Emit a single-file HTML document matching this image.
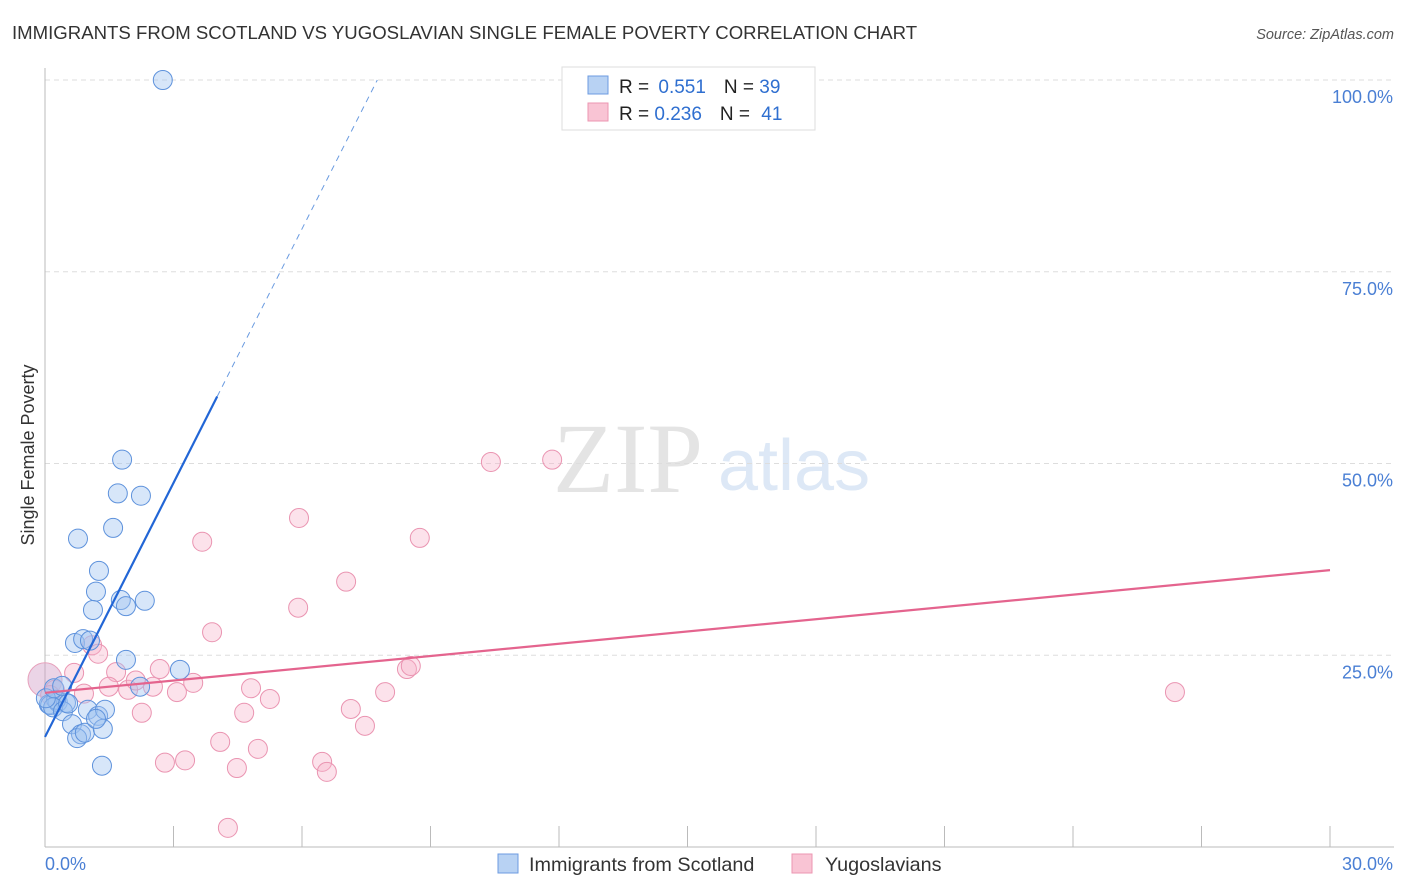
<!DOCTYPE html>
<html><head><meta charset="utf-8">
<style>
body{margin:0;background:#fff;font-family:"Liberation Sans",sans-serif;}
svg{display:block}
</style></head>
<body>
<svg id="chart" width="1406" height="892" viewBox="0 0 1406 892">
<text x="12" y="39" font-size="18.6" fill="#333">IMMIGRANTS FROM SCOTLAND VS YUGOSLAVIAN SINGLE FEMALE POVERTY CORRELATION CHART</text>
<text x="1394" y="39" font-size="14.5" fill="#555" font-style="italic" text-anchor="end">Source: ZipAtlas.com</text>
<g>
<text x="553" y="492" font-family="Liberation Serif,serif" font-size="100" fill="#e4e4e4">ZIP</text>
<text x="718" y="490" font-size="72" fill="#dde8f6">atlas</text>
</g>
<g id="grid"></g>
<g id="axes"></g>
<g id="marks"></g>
<text transform="translate(34,455) rotate(-90)" font-size="18" fill="#333" text-anchor="middle">Single Female Poverty</text>
<g>
<rect x="562" y="67" width="253" height="63" fill="#fff" stroke="#ddd"/>
<rect x="588" y="76" width="20" height="18" fill="#b8d2f3" stroke="#6c9be0"/>
<rect x="588" y="103" width="20" height="18" fill="#f9c4d4" stroke="#ec96b2"/>
<text x="619" y="93" font-size="19" fill="#222">R = <tspan fill="#2f6fd0" dx="4">0.551</tspan><tspan dx="18" fill="#222">N = </tspan><tspan fill="#2f6fd0">39</tspan></text>
<text x="619" y="120" font-size="19" fill="#222">R = <tspan fill="#2f6fd0">0.236</tspan><tspan dx="18" fill="#222">N = </tspan><tspan fill="#2f6fd0" dx="6">41</tspan></text>
</g>
<g>
<rect x="498" y="854" width="20" height="19" fill="#b8d2f3" stroke="#6c9be0"/>
<text x="529" y="871" font-size="19.8" fill="#333">Immigrants from Scotland</text>
<rect x="792" y="854" width="20" height="19" fill="#f9c4d4" stroke="#ec96b2"/>
<text x="825" y="871" font-size="19.8" fill="#333">Yugoslavians</text>
</g>
</svg>
<script>
const xTicks=[0,3,6,9,12,15,18,21,24,27,30];
const yTicks=[25,50,75,100];
const yTickLabels=["25.0%","50.0%","75.0%","100.0%"];
const xEndLabels=["0.0%","30.0%"];
const blueX=[2.75,1.80,1.70,2.24,1.59,0.77,1.26,1.19,1.77,2.33,1.89,1.12,0.70,0.89,1.05,1.89,3.15,2.22,0.09,0.12,0.30,0.49,0.26,0.19,0.42,0.54,1.00,1.24,1.40,0.63,0.84,0.75,0.93,1.35,1.33,0.02,0.21,0.40,1.19];
const blueY=[100.0,50.5,46.1,45.8,41.6,40.2,36.0,33.3,32.2,32.1,31.4,30.9,26.6,27.1,26.9,24.4,23.1,20.9,18.6,18.5,18.9,18.8,19.2,18.2,17.7,18.7,17.9,17.1,17.9,16.0,14.7,14.2,14.9,15.4,10.6,19.4,20.7,21.0,16.7];
const pinkX=[0.23,0.12,0.68,0.91,1.10,1.24,1.66,1.49,1.94,2.12,2.52,2.68,3.08,3.46,2.26,3.67,3.90,4.09,2.80,3.27,4.48,4.27,4.81,4.65,4.97,5.25,5.93,5.91,7.03,7.14,7.47,6.47,6.58,7.94,8.45,8.54,8.75,10.41,11.84,26.38];
const pinkY=[20.5,19.8,22.7,20.0,26.3,25.2,22.8,20.9,20.5,21.7,20.9,23.2,20.2,21.4,17.5,39.8,28.0,13.7,11.0,11.3,10.3,2.5,20.7,17.5,12.8,19.3,42.9,31.2,34.6,18.0,15.8,11.1,9.8,20.2,23.2,23.6,40.3,50.2,50.5,20.2];
const pinkBig=[0.0,21.8];
const blueTrend=[0,14.35,11.04];
const pinkTrend=[0,20.1,30,36.1];
const NS="http://www.w3.org/2000/svg";
const X0=45,X1=1330,Y0=847,Y100=80;
function sx(v){return X0+(v-0)/30*(X1-X0);}
function sy(v){return Y0-(v/100)*(Y0-Y100);}
function mk(tag,attrs,parent){const e=document.createElementNS(NS,tag);for(const k in attrs)e.setAttribute(k,attrs[k]);parent.appendChild(e);return e;}
const grid=document.getElementById('grid'),axes=document.getElementById('axes'),marks=document.getElementById('marks');
yTicks.forEach((t,i)=>{
 const l=mk('line',{x1:45,x2:1394,y1:sy(t),y2:sy(t),stroke:'#ddd','stroke-dasharray':'5,4'},grid);
 
 
 const tx=mk('text',{x:1393,y:sy(t)+23,'font-size':18,fill:'#4a7fd4','text-anchor':'end'},axes);
 tx.textContent=yTickLabels[i];
 
 
});
const ya=mk('line',{x1:45,x2:45,y1:68,y2:847,stroke:'#bbb'},axes);


const xa=mk('line',{x1:45,x2:1394,y1:847,y2:847,stroke:'#bbb'},axes);


xTicks.forEach(t=>{
 const l=mk('line',{x1:sx(t),x2:sx(t),y1:826,y2:847,stroke:'#bbb'},axes);
 
 
});
const xl0=mk('text',{x:45,y:870,'font-size':18,fill:'#4a7fd4'},axes);xl0.textContent=xEndLabels[0];


const xl1=mk('text',{x:1393,y:870,'font-size':18,fill:'#4a7fd4','text-anchor':'end'},axes);xl1.textContent=xEndLabels[1];


const bp=mk('circle',{cx:sx(pinkBig[0]),cy:sy(pinkBig[1]),r:17,fill:'rgba(210,160,200,0.45)',stroke:'#e7a0bb','stroke-width':1},marks);


pinkX.forEach((x,i)=>{
 const c=mk('circle',{cx:sx(x),cy:sy(pinkY[i]),r:9.5,fill:'rgba(246,180,202,0.38)',stroke:'#ea94b1','stroke-width':1},marks);
 
 
});
blueX.forEach((x,i)=>{
 const c=mk('circle',{cx:sx(x),cy:sy(blueY[i]),r:9.5,fill:'rgba(160,196,240,0.42)',stroke:'#5e92dc','stroke-width':1},marks);
 
 
});
const bx1=4.02,by=v=>blueTrend[1]+blueTrend[2]*v;
const bt=mk('line',{x1:sx(0),y1:sy(by(0)),x2:sx(bx1),y2:sy(by(bx1)),stroke:'#2266d6','stroke-width':2.2},marks);


const bx2=(100-blueTrend[1])/blueTrend[2];
const bd=mk('line',{x1:sx(bx1),y1:sy(by(bx1)),x2:sx(bx2),y2:sy(100),stroke:'#6a9be0','stroke-width':1,'stroke-dasharray':'6,5'},marks);


const pt=mk('line',{x1:sx(pinkTrend[0]),y1:sy(pinkTrend[1]),x2:sx(pinkTrend[2]),y2:sy(pinkTrend[3]),stroke:'#e4648e','stroke-width':2.2},marks);


</script>
</body></html>
